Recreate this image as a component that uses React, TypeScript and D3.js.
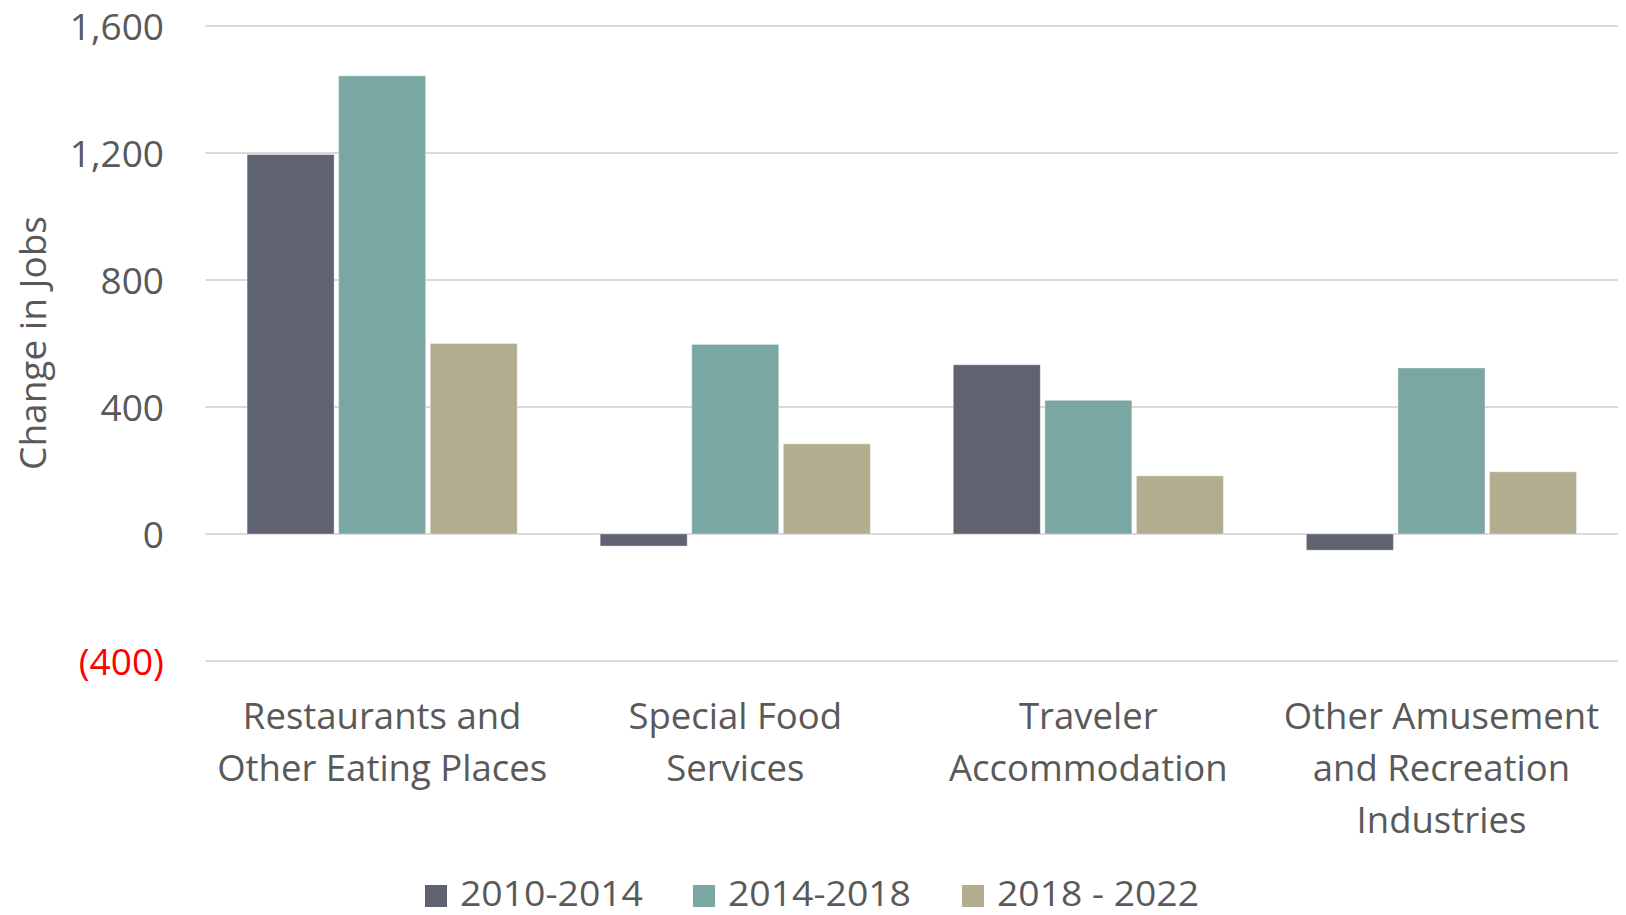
import React from "react";
import * as d3 from "d3";

const categories: string[][] = [
  ["Restaurants and", "Other Eating Places"],
  ["Special Food", "Services"],
  ["Traveler", "Accommodation"],
  ["Other Amusement", "and Recreation", "Industries"],
];
const seriesNames = ["2010-2014", "2014-2018", "2018 - 2022"];
const s2010_2014 = [1195, -38, 533, -51];
const s2014_2018 = [1443, 597, 421, 523];
const s2018_2022 = [600, 284, 183, 196];
const yTicks = [-400, 0, 400, 800, 1200, 1600];
const colors = ["#5f6271", "#7ba7a3", "#b1ad8e"];

const W = 1626;
const H = 915;
const FONT = "'Open Sans', sans-serif";

export default function App() {
  const seriesValues = [s2010_2014, s2014_2018, s2018_2022];
  const catKeys = categories.map((c) => c.join(" "));
  const y = d3.scaleLinear().domain([-400, 1600]).range([661, 26]);
  const x0 = d3
    .scaleBand<string>()
    .domain(catKeys)
    .range([205.6, 1618])
    .paddingInner(0.235)
    .paddingOuter(0.1175);
  const x1 = d3
    .scaleBand<string>()
    .domain(seriesNames)
    .range([0, x0.bandwidth()])
    .paddingInner(0.05)
    .paddingOuter(0);
  const fmt = (v: number) =>
    v < 0 ? `(${d3.format(",")(-v)})` : d3.format(",")(v);

  const legendX = [425, 693, 962];
  const legendW = [183, 183, 202];

  return (
    <svg
      width={W}
      height={H}
      style={{ position: "absolute", left: 0, top: 0, background: "#fff" }}
      fontFamily={FONT}
    >
      {yTicks.map((t) => (
        <g key={t}>
          <line
            x1={205.6}
            x2={1618}
            y1={y(t)}
            y2={y(t)}
            stroke="#d9d9d9"
            strokeWidth={2}
          />
          <text
            x={164}
            y={y(t) - 1}
            textAnchor="end"
            dominantBaseline="central"
            fontSize={37}
            fill={t < 0 ? "#ff0000" : "#595959"}
          >
            {fmt(t)}
          </text>
        </g>
      ))}
      {catKeys.map((k, ci) => (
        <g key={k} transform={`translate(${x0(k)},0)`}>
          {seriesNames.map((s, si) => {
            const v = seriesValues[si][ci];
            const y0 = y(0);
            const yv = y(v);
            return (
              <rect
                key={s}
                x={x1(s)}
                y={Math.min(y0, yv)}
                width={x1.bandwidth()}
                height={Math.abs(yv - y0)}
                fill={colors[si]}
                stroke="#ffffff"
                strokeOpacity={0.35}
                strokeWidth={1}
              />
            );
          })}
        </g>
      ))}
      {categories.map((lines, ci) => {
        const cx = (x0(catKeys[ci]) as number) + x0.bandwidth() / 2;
        return (
          <text
            key={ci}
            x={cx}
            textAnchor="middle"
            fontSize={36.5}
            fill="#595959"
          >
            {lines.map((l, li) => (
              <tspan key={li} x={cx} y={715 + li * 52} dominantBaseline="central">
                {l}
              </tspan>
            ))}
          </text>
        );
      })}
      <text
        transform={`translate(31,343) rotate(-90)`}
        textAnchor="middle"
        dominantBaseline="central"
        fontSize={37}
        fill="#595959"
      >
        Change in Jobs
      </text>
      {seriesNames.map((s, si) => (
        <g key={s}>
          <rect x={legendX[si]} y={885} width={22} height={22} fill={colors[si]} />
          <text
            x={legendX[si] + 35}
            y={906}
            fontSize={34}
            fill="#595959"
            textLength={legendW[si]}
            lengthAdjust="spacingAndGlyphs"
          >
            {s}
          </text>
        </g>
      ))}
    </svg>
  );
}
